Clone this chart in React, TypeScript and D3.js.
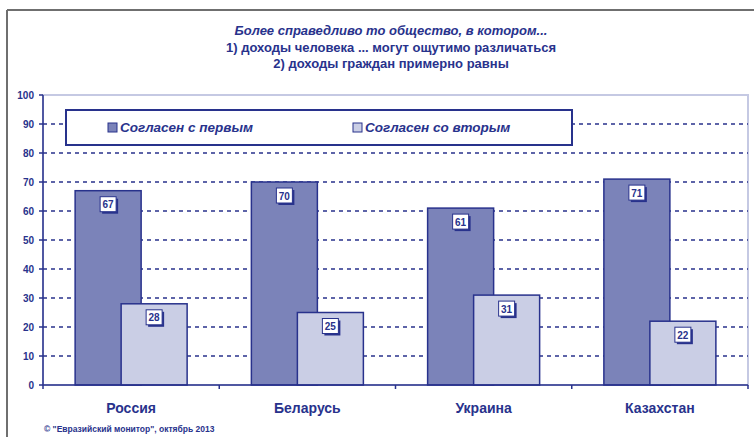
import * as d3 from 'd3'
import { useEffect, useRef } from 'react'

const categories = ['Россия', 'Беларусь', 'Украина', 'Казахстан']
const firstValues = [67, 70, 61, 71]
const secondValues = [28, 25, 31, 22]
const seriesNames = ['Согласен с первым', 'Согласен со вторым']
const yTicks = [0, 10, 20, 30, 40, 50, 60, 70, 80, 90, 100]
const titleLines = [
  'Более справедливо то общество, в котором...',
  '1) доходы человека ... могут ощутимо различаться',
  '2) доходы граждан примерно равны',
]
const footer = '© "Евразийский монитор", октябрь 2013'

const navy = '#28328c'
const darkFill = '#7b83b9'
const lightFill = '#cacee5'
const font = '"Liberation Sans", Arial, sans-serif'

export default function App() {
  const svgRef = useRef(null)
  const width = 754
  const height = 437

  const plot = { left: 43, right: 748, top: 95, bottom: 385 }

  useEffect(() => {
    const svg = d3.select(svgRef.current)
    svg.selectAll('*').remove()

    const xScale = d3.scaleBand()
      .domain(categories)
      .range([plot.left, plot.right])
    const yScale = d3.scaleLinear()
      .domain([0, 100])
      .range([plot.bottom, plot.top])

    // outer frame
    svg.append('line')
      .attr('x1', 7).attr('y1', 10).attr('x2', width).attr('y2', 10)
      .style('stroke', '#6f6f6f').style('stroke-width', 2)
    svg.append('line')
      .attr('x1', 7).attr('y1', 10).attr('x2', 7).attr('y2', height)
      .style('stroke', '#6f6f6f').style('stroke-width', 2)

    // plot area border
    svg.append('rect')
      .attr('x', plot.left).attr('y', plot.top)
      .attr('width', plot.right - plot.left).attr('height', plot.bottom - plot.top)
      .style('fill', 'none').style('stroke', '#c5c9e3').style('stroke-width', 2)

    // grid
    svg.selectAll('.grid')
      .data(yTicks.filter(t => t > 0 && t < 100))
      .enter()
      .append('line')
      .attr('x1', plot.left).attr('x2', plot.right)
      .attr('y1', d => yScale(d)).attr('y2', d => yScale(d))
      .style('stroke', navy).style('stroke-width', 1.5)
      .style('stroke-dasharray', '4,4')

    // bars
    const bw = 66
    const g = svg.append('g')
    categories.forEach((c, i) => {
      const cx = xScale(c)! + xScale.bandwidth() / 2
      const bars = [
        { x: cx - 56, v: firstValues[i], fill: darkFill },
        { x: cx - 10, v: secondValues[i], fill: lightFill },
      ]
      bars.forEach(b => {
        g.append('rect')
          .attr('x', b.x).attr('y', yScale(b.v))
          .attr('width', bw).attr('height', yScale(0) - yScale(b.v))
          .style('fill', b.fill).style('stroke', navy).style('stroke-width', 1.5)
      })
      bars.forEach(b => {
        const lx = b.x + bw / 2 - 8
        const ly = yScale(b.v) + 6
        g.append('rect')
          .attr('x', lx + 2).attr('y', ly + 2).attr('width', 16).attr('height', 15)
          .style('fill', navy)
        g.append('rect')
          .attr('x', lx).attr('y', ly).attr('width', 16).attr('height', 15)
          .style('fill', '#fff').style('stroke', navy).style('stroke-width', 1)
        g.append('text')
          .attr('x', lx + 8).attr('y', ly + 11.5)
          .attr('text-anchor', 'middle')
          .style('font-family', font).style('font-size', '10px').style('font-weight', 'bold')
          .style('fill', navy)
          .text(b.v)
      })
    })

    // y axis
    svg.append('line')
      .attr('x1', plot.left).attr('x2', plot.left)
      .attr('y1', plot.top).attr('y2', plot.bottom)
      .style('stroke', navy).style('stroke-width', 1.5)
    svg.selectAll('.ytick')
      .data(yTicks)
      .enter()
      .append('line')
      .attr('x1', plot.left - 4).attr('x2', plot.left)
      .attr('y1', d => yScale(d)).attr('y2', d => yScale(d))
      .style('stroke', navy).style('stroke-width', 1.5)
    svg.selectAll('.ylabel')
      .data(yTicks)
      .enter()
      .append('text')
      .attr('x', plot.left - 9).attr('y', d => yScale(d) + 3.5)
      .attr('text-anchor', 'end')
      .style('font-family', font).style('font-size', '10px').style('font-weight', 'bold')
      .style('fill', navy)
      .text(d => d)

    // x axis
    svg.append('line')
      .attr('x1', plot.left).attr('x2', plot.right)
      .attr('y1', plot.bottom).attr('y2', plot.bottom)
      .style('stroke', navy).style('stroke-width', 1.5)
    const xEdges = categories.map(c => xScale(c)!).concat([plot.right])
    svg.selectAll('.xtick')
      .data(xEdges)
      .enter()
      .append('line')
      .attr('x1', d => d).attr('x2', d => d)
      .attr('y1', plot.bottom).attr('y2', plot.bottom + 4)
      .style('stroke', navy).style('stroke-width', 1.5)
    svg.selectAll('.xlabel')
      .data(categories)
      .enter()
      .append('text')
      .attr('x', d => xScale(d)! + xScale.bandwidth() / 2)
      .attr('y', 413)
      .attr('text-anchor', 'middle')
      .style('font-family', font).style('font-size', '14px').style('font-weight', 'bold')
      .style('fill', navy)
      .text(d => d)

    // legend
    svg.append('rect')
      .attr('x', 66).attr('y', 110).attr('width', 506).attr('height', 35)
      .style('fill', '#fff').style('stroke', navy).style('stroke-width', 2)
    const legendX = [108, 353]
    seriesNames.forEach((n, i) => {
      svg.append('rect')
        .attr('x', legendX[i]).attr('y', 123).attr('width', 9).attr('height', 9)
        .style('fill', i === 0 ? darkFill : lightFill).style('stroke', navy).style('stroke-width', 1)
      svg.append('text')
        .attr('x', legendX[i] + 12).attr('y', 132)
        .style('font-family', font).style('font-size', '13.5px')
        .style('font-weight', 'bold').style('font-style', 'italic')
        .style('fill', navy)
        .text(n)
    })

    // title
    titleLines.forEach((t, i) => {
      svg.append('text')
        .attr('x', 391).attr('y', 35 + i * 16.5)
        .attr('text-anchor', 'middle')
        .style('font-family', font).style('font-size', '13px').style('font-weight', 'bold')
        .style('font-style', i === 0 ? 'italic' : 'normal')
        .style('fill', navy)
        .text(t)
    })

    // footer
    svg.append('text')
      .attr('x', 44).attr('y', 432)
      .style('font-family', font).style('font-size', '8.5px').style('font-weight', 'bold')
      .style('fill', navy)
      .text(footer)
  }, [svgRef])

  return (
    <svg ref={svgRef} width={width} height={height}
      style={{ position: 'absolute', left: 0, top: 0, background: '#fff' }}>
    </svg>
  )
}
